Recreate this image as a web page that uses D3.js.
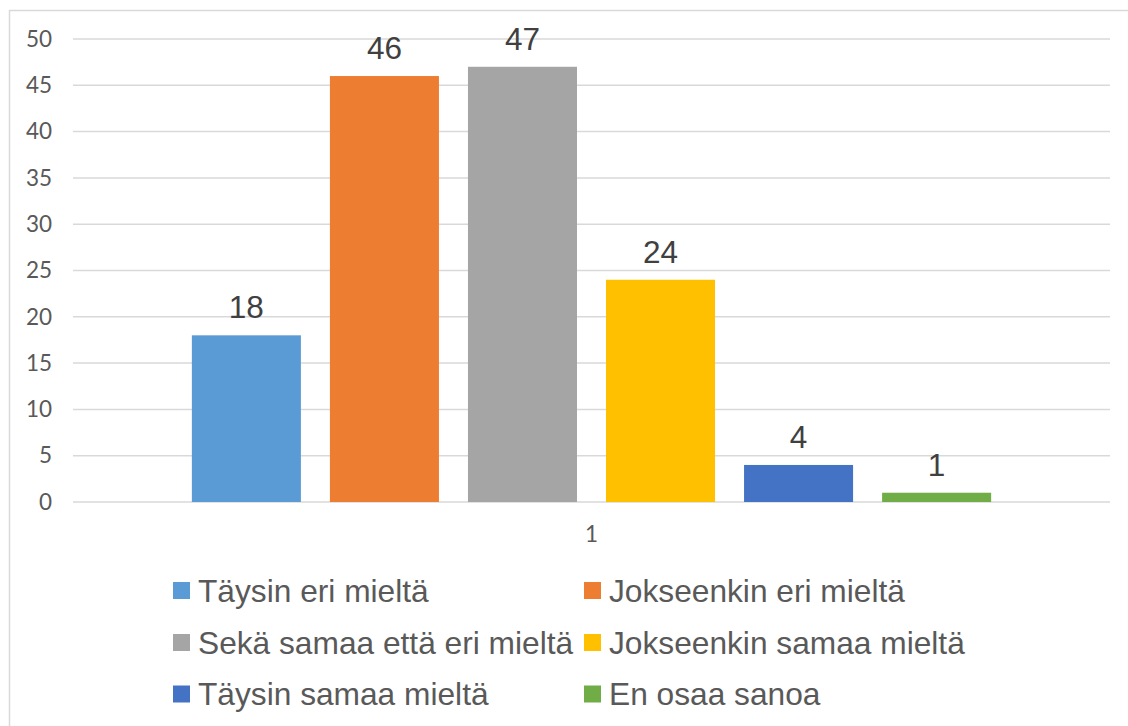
<!DOCTYPE html>
<html>
<head>
<meta charset="utf-8">
<script src="https://cdn.jsdelivr.net/npm/d3@7"></script>
<style>
	body { margin: 0; background: #fff; }
	svg { display: block; }
</style>
</head>
<body>
<svg id="chart"></svg>
<script>
// chart data
var categories = ["1"];
var seriesNames = ["Täysin eri mieltä", "Jokseenkin eri mieltä", "Sekä samaa että eri mieltä",
	"Jokseenkin samaa mieltä", "Täysin samaa mieltä", "En osaa sanoa"];
var seriesValues = [18, 46, 47, 24, 4, 1];
var seriesColors = ["#5B9BD5", "#ED7D31", "#A5A5A5", "#FFC000", "#4472C4", "#70AD47"];
var yTicks = [0, 5, 10, 15, 20, 25, 30, 35, 40, 45, 50];

var svgWidth = 1128, svgHeight = 726;
var plot = { left: 73, right: 1110, top: 39, bottom: 502 };

var svg = d3.select("#chart")
	.attr("width", svgWidth)
	.attr("height", svgHeight);

//chart border
svg.append("rect")
	.attr("x", 9.5).attr("y", 10.5)
	.attr("width", 1130).attr("height", 730)
	.attr("fill", "none")
	.attr("stroke", "#d9d9d9")
	.attr("stroke-width", 1.5);

var y = d3.scaleLinear()
	.domain([0, 50])
	.range([plot.bottom, plot.top]);

var x0 = d3.scaleBand()
	.domain(categories)
	.range([plot.left, plot.right])
	.paddingInner(0)
	.paddingOuter(0.126);

var x1 = d3.scaleBand()
	.domain(seriesNames)
	.range([0, x0.bandwidth()])
	.padding(29 / 138)
	.paddingOuter(29 / 276);

//gridlines
svg.append("g")
	.selectAll("line")
	.data(yTicks)
	.join("line")
	.attr("x1", plot.left).attr("x2", plot.right)
	.attr("y1", d => y(d)).attr("y2", d => y(d))
	.attr("stroke", "#d9d9d9")
	.attr("stroke-width", 1.5);

//y axis labels
var yAxis = svg.append("g")
	.attr("transform", `translate(${plot.left},0)`)
	.call(d3.axisLeft(y).tickValues(yTicks).tickSize(0).tickPadding(21));
yAxis.select(".domain").remove();
yAxis.selectAll("text")
	.attr("fill", "#595959")
	.style("font", "22.5px Lato, 'Open Sans', sans-serif");

//bars
var groups = svg.append("g")
	.selectAll("g")
	.data(categories)
	.join("g")
	.attr("transform", d => `translate(${x0(d)},0)`);

var rows = seriesNames.map((name, i) => ({ name: name, value: seriesValues[i], color: seriesColors[i] }));

groups.selectAll("rect")
	.data(rows)
	.join("rect")
	.attr("x", d => x1(d.name))
	.attr("y", d => y(d.value))
	.attr("width", x1.bandwidth())
	.attr("height", d => y(0) - y(d.value))
	.attr("fill", d => d.color);

//value labels
groups.selectAll("text")
	.data(rows)
	.join("text")
	.attr("x", d => x1(d.name) + x1.bandwidth() / 2)
	.attr("y", d => y(d.value) - 17)
	.attr("text-anchor", "middle")
	.attr("fill", "#404040")
	.style("font", "31.5px 'Liberation Sans', Arial, sans-serif")
	.text(d => d.value);

//x axis label
var xAxis = svg.append("g")
	.attr("transform", `translate(0,${plot.bottom})`)
	.call(d3.axisBottom(x0).tickSize(0).tickPadding(24));
xAxis.select(".domain").remove();
xAxis.selectAll("text")
	.attr("fill", "#595959")
	.style("font", "22.5px Lato, 'Open Sans', sans-serif");

//legend
var legendCols = [173, 584];
var legendRows = [590.5, 642.5, 694];
var legend = svg.append("g")
	.selectAll("g")
	.data(rows)
	.join("g")
	.attr("transform", (d, i) => `translate(${legendCols[i % 2]},${legendRows[Math.floor(i / 2)]})`);

legend.append("rect")
	.attr("x", 0).attr("y", -8.5)
	.attr("width", 17).attr("height", 17)
	.attr("fill", d => d.color);

legend.append("text")
	.attr("x", 25)
	.attr("y", 11)
	.attr("fill", "#595959")
	.style("font", "31.7px 'Liberation Sans', Arial, sans-serif")
	.text(d => d.name);
</script>
</body>
</html>
